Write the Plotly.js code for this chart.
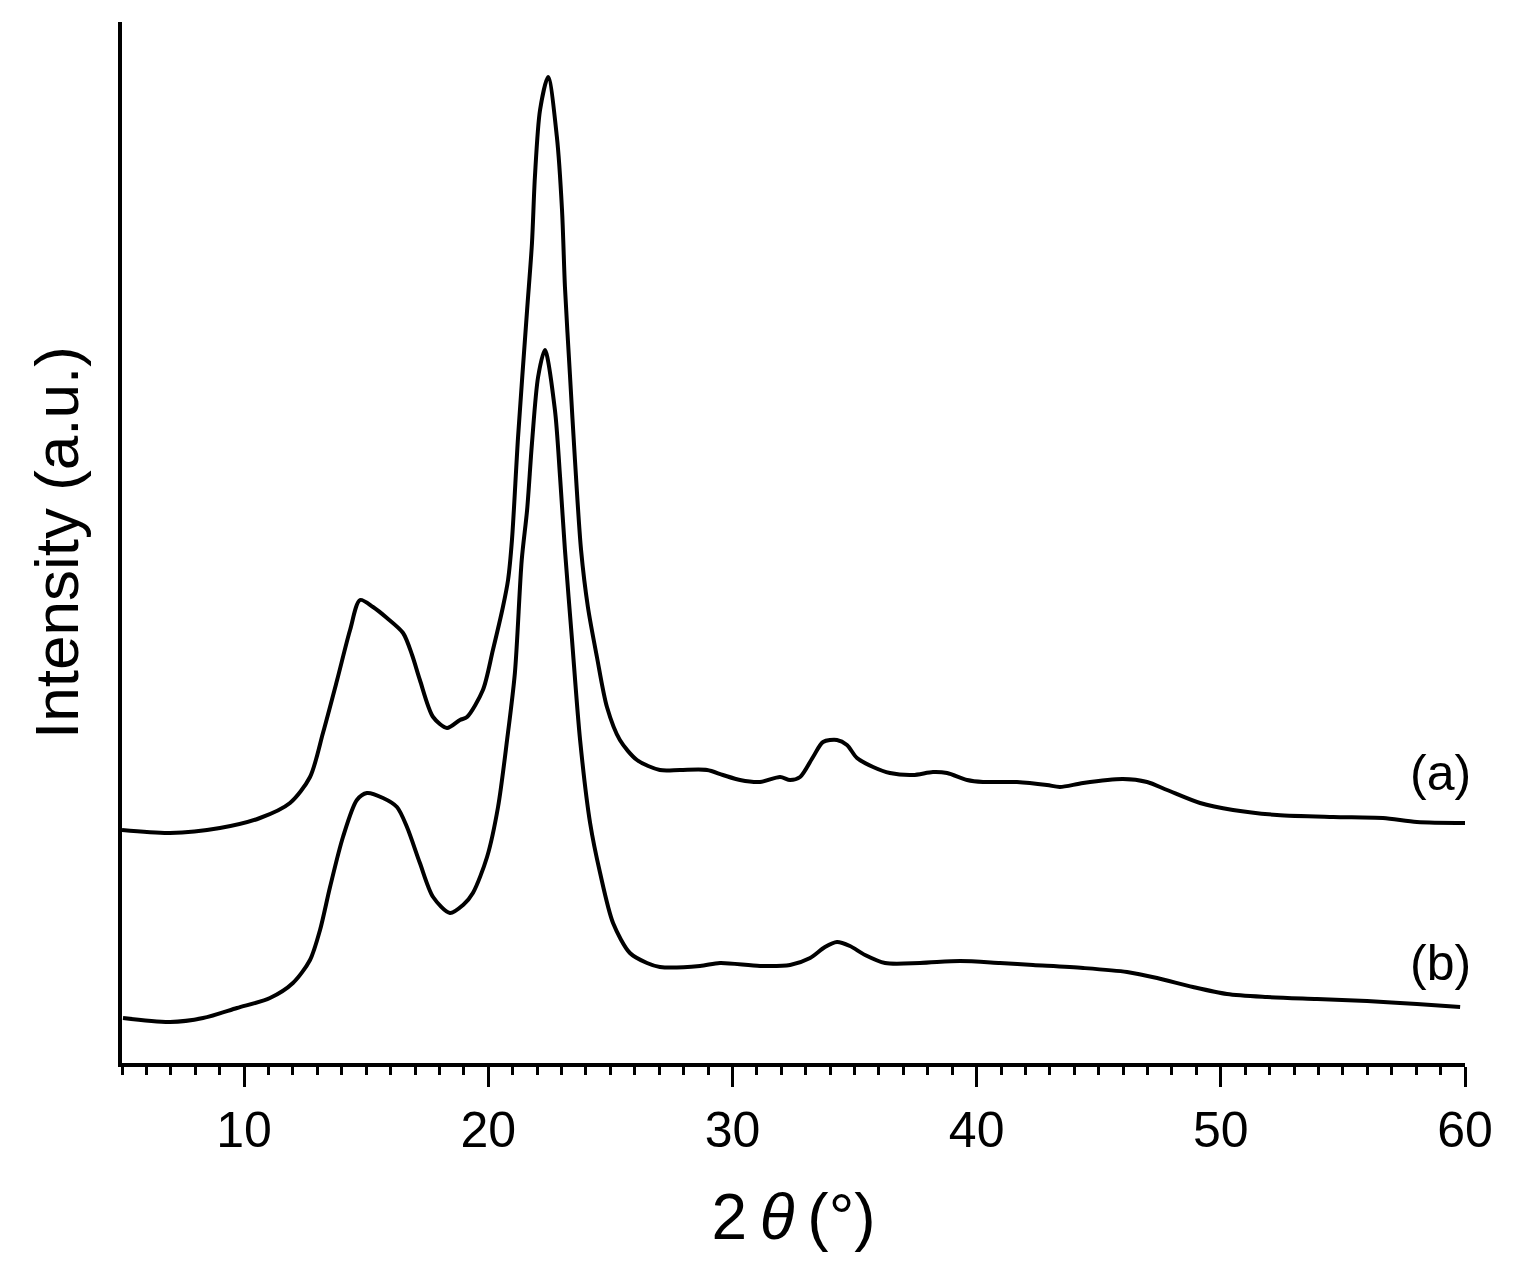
<!DOCTYPE html>
<html>
<head>
<meta charset="utf-8">
<script src="https://cdn.plot.ly/plotly-3.0.1.min.js"></script>
<style>html,body{margin:0;padding:0;background:#fff;}#chart{width:1517px;height:1283px;}</style>
</head>
<body>
<div id="chart"></div>
<script>
// Curve (a): 2theta (deg) and intensity (a.u.)
const twoThetaA = [5.00, 6.97, 9.01, 10.65, 11.88, 12.70, 13.23, 13.81, 14.34, 14.75, 15.28, 15.85, 16.51, 16.88, 17.20, 17.74, 18.31, 18.84, 19.13, 19.78, 20.19, 20.60, 20.81, 20.97, 21.22, 21.59, 21.79, 21.91, 22.12, 22.45, 22.81, 23.02, 23.14, 23.35, 23.55, 23.80, 24.08, 24.45, 24.86, 25.39, 26.09, 27.03, 27.85, 28.96, 29.61, 30.31, 31.13, 31.95, 32.36, 32.77, 33.30, 33.71, 34.28, 34.69, 35.10, 35.76, 36.45, 37.39, 38.21, 38.79, 39.61, 40.26, 41.65, 42.88, 43.41, 44.36, 45.99, 46.98, 47.80, 49.15, 50.50, 52.30, 54.60, 56.64, 58.03, 60.00];
const intensityA = [23.3, 23.0, 23.5, 24.5, 26.0, 28.6, 33.0, 38.3, 43.3, 46.3, 45.6, 44.5, 43.0, 40.8, 38.3, 34.6, 33.5, 34.3, 34.6, 37.3, 41.3, 45.6, 48.3, 52.3, 62.6, 75.3, 82.0, 88.6, 95.3, 98.6, 92.6, 85.3, 77.6, 68.6, 60.3, 51.3, 45.6, 40.6, 35.6, 32.3, 30.3, 29.3, 29.3, 29.3, 28.8, 28.3, 28.1, 28.6, 28.3, 28.6, 30.6, 32.1, 32.3, 31.8, 30.5, 29.6, 29.0, 28.8, 29.1, 29.0, 28.3, 28.1, 28.1, 27.8, 27.6, 28.0, 28.4, 28.1, 27.3, 26.0, 25.3, 24.8, 24.6, 24.5, 24.1, 24.0];

// Curve (b)
const twoThetaB = [5.04, 6.97, 8.32, 9.71, 11.06, 12.00, 12.70, 13.11, 13.52, 14.05, 14.62, 15.03, 15.69, 16.26, 16.67, 17.20, 17.74, 18.43, 18.97, 19.37, 19.95, 20.40, 20.77, 21.09, 21.37, 21.59, 21.79, 22.04, 22.32, 22.73, 22.94, 23.14, 23.43, 23.76, 24.17, 24.58, 25.11, 25.80, 26.50, 27.03, 28.67, 29.49, 31.13, 32.36, 33.18, 33.79, 34.28, 34.81, 35.43, 36.25, 37.68, 39.32, 40.96, 42.31, 44.36, 46.16, 47.39, 48.86, 50.25, 51.89, 53.94, 55.99, 58.03, 59.80];
const intensityB = [4.5, 4.1, 4.5, 5.5, 6.5, 8.0, 10.3, 13.3, 17.6, 22.6, 26.3, 27.0, 26.5, 25.6, 23.6, 20.0, 16.6, 15.0, 15.8, 17.0, 20.6, 25.6, 32.3, 39.0, 50.3, 55.3, 62.0, 68.6, 71.3, 65.3, 58.6, 51.3, 42.3, 32.3, 24.0, 19.0, 14.0, 11.0, 10.0, 9.6, 9.7, 10.0, 9.7, 9.8, 10.5, 11.6, 12.1, 11.7, 10.8, 10.0, 10.0, 10.2, 10.0, 9.8, 9.5, 9.1, 8.5, 7.6, 6.9, 6.6, 6.4, 6.2, 5.9, 5.6];

const curveLabels = ['(a)', '(b)'];
const labelX = [58.98, 58.98];
const labelY = [29.0, 10.0];
const majorTicks = [10, 20, 30, 40, 50, 60];

const FONT = 'Liberation Sans, Arial, sans-serif';

const traces = [
  {x: twoThetaA, y: intensityA, name: curveLabels[0], type: 'scatter', mode: 'lines',
   line: {color: '#000', width: 4, shape: 'spline', smoothing: 0.8}},
  {x: twoThetaB, y: intensityB, name: curveLabels[1], type: 'scatter', mode: 'lines',
   line: {color: '#000', width: 4, shape: 'spline', smoothing: 0.8}}
];

const layout = {
  width: 1517, height: 1283,
  paper_bgcolor: '#fff', plot_bgcolor: '#fff',
  showlegend: false,
  margin: {l: 122, r: 52, t: 22, b: 220},
  font: {family: FONT, color: '#000'},
  xaxis: {
    range: [5, 60], showgrid: false, zeroline: false,
    showline: true, linecolor: '#000', linewidth: 4,
    tickmode: 'array', tickvals: majorTicks, ticktext: majorTicks.map(String),
    ticks: 'outside', ticklen: 20, tickwidth: 3, tickcolor: '#000',
    tickfont: {size: 50, family: FONT, color: '#000'},
    minor: {dtick: 1, tick0: 0, ticks: 'outside', ticklen: 8, tickwidth: 3, tickcolor: '#000', showgrid: false},
    title: {text: '2\u2009<i>θ</i>\u2009(°)', font: {size: 64, family: FONT, color: '#000'}, standoff: 38},
    fixedrange: true
  },
  yaxis: {
    range: [0, 104.1], showgrid: false, zeroline: false,
    showline: true, linecolor: '#000', linewidth: 4,
    ticks: '', showticklabels: false,
    title: {text: 'Intensity (a.u.)', font: {size: 62, family: FONT, color: '#000'}, standoff: 20},
    fixedrange: true
  },
  annotations: curveLabels.map((t, i) => ({
    x: labelX[i], y: labelY[i], xref: 'x', yref: 'y', text: t, showarrow: false,
    font: {size: 50, family: FONT, color: '#000'}, xanchor: 'center', yanchor: 'middle'
  }))
};

Plotly.newPlot('chart', traces, layout, {displayModeBar: false, staticPlot: true});
</script>
</body>
</html>
